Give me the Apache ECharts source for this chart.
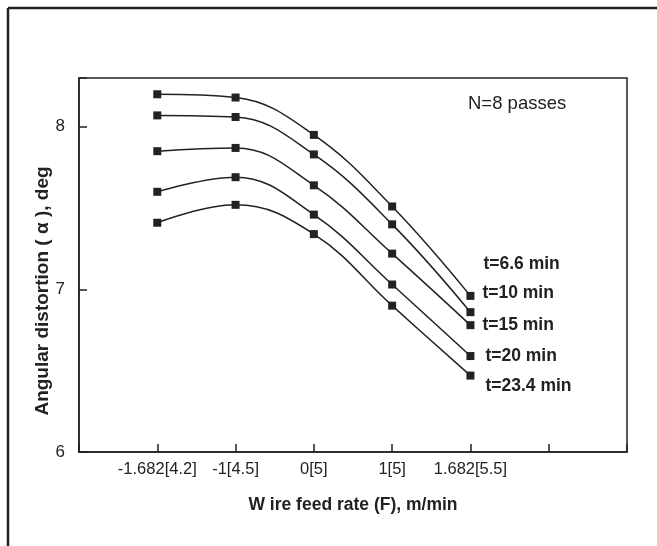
<!DOCTYPE html>
<html>
<head>
<meta charset="utf-8">
<script src="https://cdn.jsdelivr.net/npm/echarts@6/dist/echarts.min.js"></script>
<style>
  html, body { margin: 0; padding: 0; background: #fff; }
  #chart { width: 657px; height: 546px; }
</style>
</head>
<body>
<div id="chart"></div>
<script>
// x positions of the coded levels, and their tick labels
const xPos = [1, 2, 3, 4, 5];
const xLabels = ['-1.682[4.2]', '-1[4.5]', '0[5]', '1[5]', '1.682[5.5]'];

const seriesNames = ['t=6.6 min', 't=10 min', 't=15 min', 't=20 min', 't=23.4 min'];
const t66 = [8.20, 8.18, 7.95, 7.51, 6.96];
const t10 = [8.07, 8.06, 7.83, 7.40, 6.86];
const t15 = [7.85, 7.87, 7.64, 7.22, 6.78];
const t20 = [7.60, 7.69, 7.46, 7.03, 6.59];
const t234 = [7.41, 7.52, 7.34, 6.90, 6.47];
const seriesValues = [t66, t10, t15, t20, t234];

// end label offsets so the names sit like the original annotations
const labelOffsets = [[5, -32], [4, -19], [4, 0], [7, 0], [7, 11]];

const chart = echarts.init(document.getElementById('chart'));

chart.setOption({
    backgroundColor: '#fff',
    animation: false,
    textStyle: { fontFamily: 'Liberation Sans, Arial, sans-serif', color: '#222' },
    grid: {
        left: 79, top: 78, right: 30, bottom: 94,
        show: true, borderColor: '#222', borderWidth: 1.5
    },
    xAxis: {
        type: 'value',
        min: 0, max: 7, interval: 1,
        splitLine: { show: false },
        axisLine: { lineStyle: { color: '#222', width: 1.5 } },
        axisTick: { inside: true, length: 8, lineStyle: { color: '#222', width: 1.5 } },
        axisLabel: {
            color: '#222', fontSize: 16.5, margin: 9,
            formatter: v => {
                const i = xPos.indexOf(v);
                return i >= 0 ? xLabels[i] : '';
            }
        },
        name: 'W ire feed rate (F), m/min',
        nameLocation: 'middle',
        nameGap: 44,
        nameTextStyle: { color: '#222', fontSize: 17.5, fontWeight: 'bold' }
    },
    yAxis: {
        type: 'value',
        min: 6, max: 8.3, interval: 1,
        splitLine: { show: false },
        axisLine: { lineStyle: { color: '#222', width: 1.5 } },
        axisTick: { inside: true, length: 8, lineStyle: { color: '#222', width: 1.5 } },
        axisLabel: {
            color: '#222', fontSize: 17, margin: 14,
            formatter: v => Number.isInteger(v) ? String(v) : ''
        }
    },
    graphic: [
        { type: 'line', shape: { x1: 8, y1: 8, x2: 657, y2: 8 }, style: { stroke: '#222', lineWidth: 2.5 } },
        { type: 'line', shape: { x1: 8, y1: 8, x2: 8, y2: 546 }, style: { stroke: '#222', lineWidth: 2.5 } },
        {
            type: 'text', x: 43, y: 291, rotation: Math.PI / 2,
            style: {
                text: 'Angular distortion ( α ), deg',
                font: 'bold 19px Liberation Sans, Arial, sans-serif',
                fill: '#222', align: 'center', verticalAlign: 'middle'
            }
        },
        {
            type: 'text', x: 468, y: 104,
            style: {
                text: 'N=8 passes',
                font: '18.5px Liberation Sans, Arial, sans-serif',
                fill: '#222', align: 'left', verticalAlign: 'middle'
            }
        }
    ],
    series: seriesNames.map((name, k) => ({
        name: name,
        type: 'line',
        smooth: 0.4,
        symbol: 'rect',
        symbolSize: 8,
        data: xPos.map((x, i) => [x, seriesValues[k][i]]),
        lineStyle: { color: '#222', width: 1.5 },
        itemStyle: { color: '#222' },
        endLabel: {
            show: true,
            formatter: '{a}',
            offset: labelOffsets[k],
            color: '#222',
            fontSize: 17.5,
            fontWeight: 'bold'
        }
    }))
});
</script>
</body>
</html>
